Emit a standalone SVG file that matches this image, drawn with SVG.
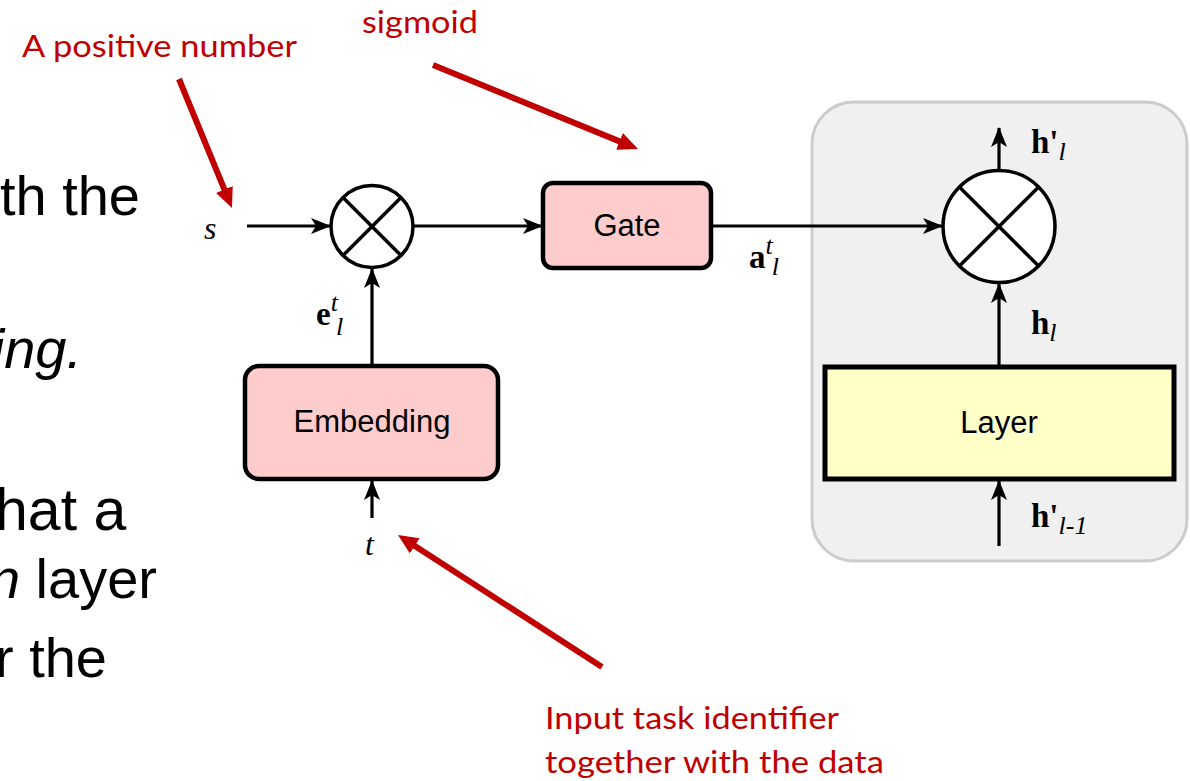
<svg xmlns="http://www.w3.org/2000/svg" width="1190" height="781" viewBox="0 0 1190 781">
  <style>
    .body { font-family: "Liberation Sans", Arial, sans-serif; font-size: 56px; fill: #000; }
    .big { font-size: 59px; }
    .red { font-family: Lato, "Liberation Sans", sans-serif; font-size: 31px; fill: #c00000; }
    .lbl { font-family: "Liberation Sans", Arial, sans-serif; font-size: 31px; fill: #000; text-anchor: middle; }
    .math { font-family: "Liberation Serif", "Times New Roman", serif; fill: #000; }
    .mb { font-weight: bold; font-size: 33px; }
    .mi { font-style: italic; font-size: 26px; }
    .edge { stroke: #000; stroke-width: 3.2; fill: none; marker-end: url(#arr); }
    .redarrow { stroke: #c00000; stroke-width: 6; fill: none; marker-end: url(#rarr); }
    .pink { fill: #ffcccc; stroke: #000; stroke-width: 4.5; }
    .op { fill: #fff; stroke: #000; stroke-width: 3.5; }
    .opx { stroke: #000; stroke-width: 3.5; }
  </style>
  <defs>
    <marker id="arr" viewBox="0 0 20 16" refX="19" refY="8" markerWidth="20" markerHeight="16" markerUnits="userSpaceOnUse" orient="auto">
      <path d="M0,0 L20,8 L0,16 L5,8 Z" fill="#000"/>
    </marker>
    <marker id="rarr" viewBox="0 0 20 18" refX="4" refY="9" markerWidth="20" markerHeight="18" markerUnits="userSpaceOnUse" orient="auto">
      <path d="M0,0 L20,9 L0,18 Z" fill="#c00000"/>
    </marker>
  </defs>

  <!-- background slide text -->
  <g id="slide-text">
    <text class="body" x="140" y="215" text-anchor="end">th the</text>
    <text class="body" x="82" y="368" text-anchor="end" font-style="italic">ing.</text>
    <text class="body big" x="-5" y="530">hat a</text>
    <text class="body" x="157" y="598" text-anchor="end"><tspan font-style="italic">n</tspan> layer</text>
    <text class="body" x="107" y="677" text-anchor="end">r the</text>
  </g>

  <!-- container -->
  <g id="layer-block">
    <rect x="812" y="102" width="375" height="459" rx="42" ry="42" fill="#f0f0f0" stroke="#cccccc" stroke-width="3"/>
  </g>

  <!-- connectors -->
  <g id="connectors">
    <line class="edge" x1="247" y1="226" x2="330" y2="226"/>
    <line class="edge" x1="413" y1="226" x2="542" y2="226"/>
    <line class="edge" x1="712" y1="226" x2="942" y2="226"/>
    <line class="edge" x1="372" y1="366" x2="372" y2="269"/>
    <line class="edge" x1="372" y1="518" x2="372" y2="481"/>
    <line class="edge" x1="999" y1="366" x2="999" y2="284"/>
    <line class="edge" x1="999" y1="546" x2="999" y2="481"/>
    <line class="edge" x1="999" y1="170" x2="999" y2="128"/>
  </g>

  <!-- nodes -->
  <g id="mult1">
    <circle class="op" cx="372" cy="226.5" r="41"/>
    <line class="opx" x1="343" y1="197.5" x2="401" y2="255.5"/>
    <line class="opx" x1="401" y1="197.5" x2="343" y2="255.5"/>
  </g>
  <g id="gate">
    <rect class="pink" x="543" y="183" width="168" height="85" rx="10" ry="10"/>
    <text class="lbl" x="627" y="236">Gate</text>
  </g>
  <g id="embedding">
    <rect class="pink" x="245" y="366" width="253" height="113" rx="14" ry="14"/>
    <text class="lbl" x="372" y="432">Embedding</text>
  </g>
  <g id="mult2">
    <circle class="op" cx="999" cy="226.5" r="56"/>
    <line class="opx" x1="959.4" y1="186.9" x2="1038.6" y2="266.1"/>
    <line class="opx" x1="1038.6" y1="186.9" x2="959.4" y2="266.1"/>
  </g>
  <g id="layer">
    <rect x="825" y="367" width="349" height="112" fill="#ffffc8" stroke="#000" stroke-width="5"/>
    <text class="lbl" x="999" y="433">Layer</text>
  </g>

  <!-- math labels -->
  <g id="labels">
    <text class="math" x="204" y="239" font-style="italic" font-size="32">s</text>
    <text class="math" x="365" y="555" font-style="italic" font-size="32">t</text>
    <text class="math" x="316" y="325"><tspan class="mb">e</tspan><tspan class="mi" dy="-14">t</tspan><tspan class="mi" dx="-2" dy="24">l</tspan></text>
    <text class="math" x="749" y="268"><tspan class="mb">a</tspan><tspan class="mi" dy="-14">t</tspan><tspan class="mi" dx="-1" dy="21">l</tspan></text>
    <text class="math" x="1031" y="153"><tspan class="mb">h'</tspan><tspan class="mi" dy="7">l</tspan></text>
    <text class="math" x="1031" y="334"><tspan class="mb">h</tspan><tspan class="mi" dy="7">l</tspan></text>
    <text class="math" x="1031" y="527"><tspan class="mb">h'</tspan><tspan class="mi" dy="7">l-1</tspan></text>
  </g>

  <!-- annotations -->
  <g id="annotations">
    <text class="red" x="22" y="57" textLength="275" lengthAdjust="spacingAndGlyphs">A positive number</text>
    <text class="red" x="362" y="33" textLength="116" lengthAdjust="spacingAndGlyphs">sigmoid</text>
    <text class="red" x="545" y="729" textLength="294" lengthAdjust="spacingAndGlyphs">Input task identifier</text>
    <text class="red" x="545" y="773" textLength="339" lengthAdjust="spacingAndGlyphs">together with the data</text>
    <line class="redarrow" x1="179" y1="79" x2="225.9" y2="193.2"/>
    <line class="redarrow" x1="433" y1="65" x2="623.2" y2="142.9"/>
    <line class="redarrow" x1="602" y1="667" x2="411.4" y2="543.7"/>
  </g>
</svg>
